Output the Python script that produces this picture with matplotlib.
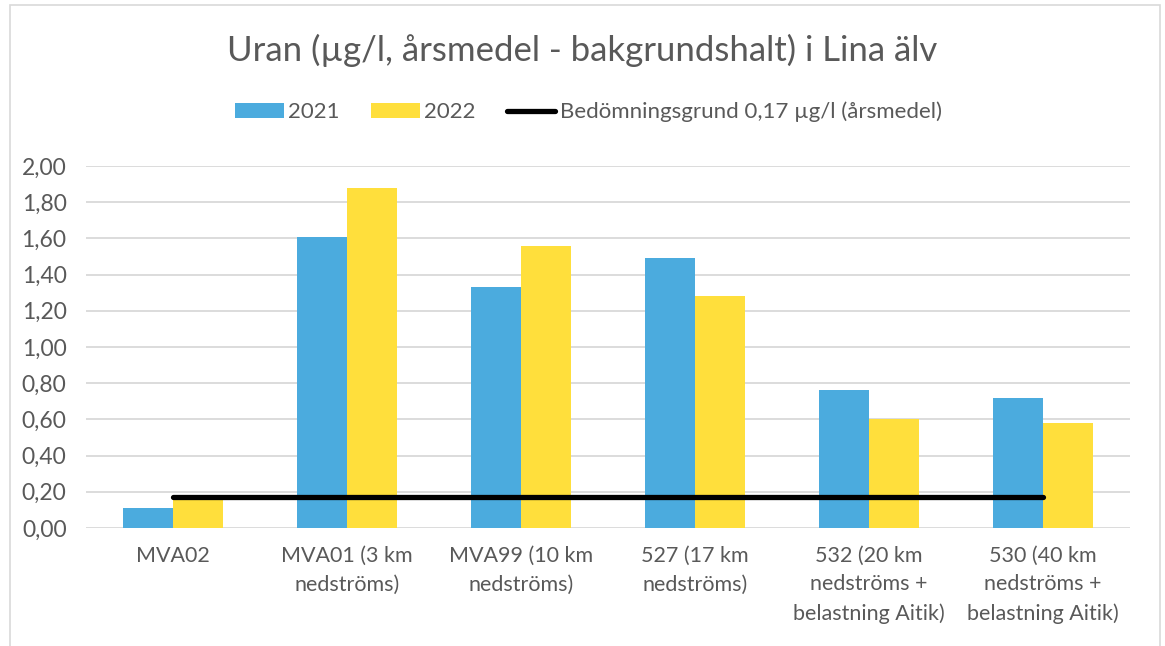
import numpy as np
import matplotlib.pyplot as plt
from matplotlib.patches import Rectangle

plt.rcParams['font.family'] = ['Lato', 'DejaVu Sans']

categories = ['MVA02', 'MVA01 (3 km\nnedströms)', 'MVA99 (10 km\nnedströms)',
              '527 (17 km\nnedströms)', '532 (20 km\nnedströms +\nbelastning Aitik)',
              '530 (40 km\nnedströms +\nbelastning Aitik)']
v2021 = [0.11, 1.61, 1.33, 1.49, 0.76, 0.72]
v2022 = [0.16, 1.88, 1.56, 1.28, 0.60, 0.58]
threshold = [0.17] * 6

grey = '#595959'
fig = plt.figure(figsize=(11.65, 6.46), dpi=100)
ax = fig.add_axes([86 / 1165, 1 - 528 / 646, (1130 - 86) / 1165, (528 - 166) / 646])

x = np.arange(len(categories))
w = 0.287
b1 = ax.bar(x - w / 2, v2021, w, color='#4BABDE', label='2021', zorder=2)
b2 = ax.bar(x + w / 2, v2022, w, color='#FFDF3C', label='2022', zorder=2)
ln, = ax.plot(x, threshold, color='black', lw=3.8, solid_capstyle='round',
              label='Bedömningsgrund 0,17 µg/l (årsmedel)', zorder=3)

ax.set_xlim(-0.5, len(categories) - 0.5)
ax.set_ylim(0, 2.0)
yt = np.arange(0, 2.01, 0.2)
ax.set_yticks(yt)
ax.set_yticklabels([f'{v:.2f}'.replace('.', ',') for v in yt], fontsize=16.5, color=grey)
ax.set_xticks(x)
ax.set_xticklabels(categories, fontsize=15.5, color=grey, linespacing=1.52)
ax.tick_params(axis='x', length=0, pad=13)
ax.tick_params(axis='y', length=0, pad=14)
ax.grid(axis='y', color='#D9D9D9', lw=1.3, zorder=0)
for s in ax.spines.values():
    s.set_visible(False)

fig.text(0.5, 1 - 50 / 646, 'Uran (µg/l, årsmedel - bakgrundshalt) i Lina älv',
         ha='center', va='center', fontsize=25, color=grey)
fig.legend([b1, b2, ln], [b1.get_label(), b2.get_label(), ln.get_label()],
           loc='center', bbox_to_anchor=(0.505, 1 - 112 / 646), ncol=3, frameon=False,
           fontsize=16, labelcolor=grey, handlelength=2.2, handleheight=0.6,
           columnspacing=1.4, handletextpad=0.2)

fig.patches.append(Rectangle((10 / 1165, -0.05), (1160 - 10) / 1165, 1.05 - 5 / 646,
                             transform=fig.transFigure, fill=False,
                             edgecolor='#D9D9D9', lw=1.2))

fig.savefig('out.png', dpi=100)
